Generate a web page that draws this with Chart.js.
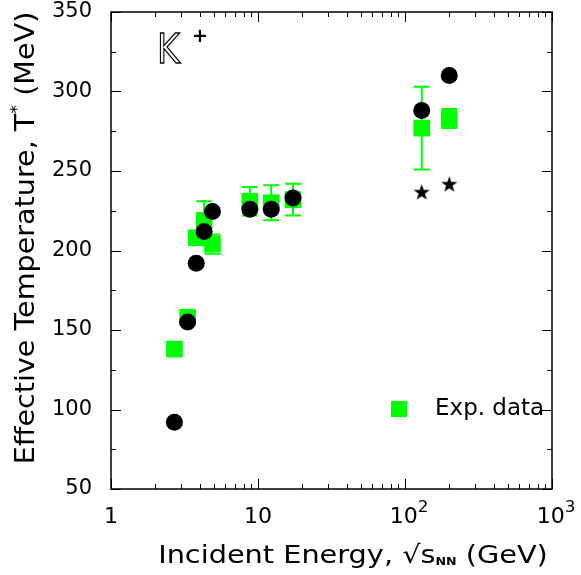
<!DOCTYPE html>
<html><head><meta charset="utf-8">
<script src="https://cdn.jsdelivr.net/npm/chart.js@4.4.1/dist/chart.umd.min.js"></script>
<style>html,body{margin:0;padding:0;background:#fff}canvas{display:block}</style>
</head><body>
<canvas id="c" width="581" height="575"></canvas>
<script>
// K+ effective temperature vs incident energy
const expEnergy  =[2.7,3.32,3.8,4.3,4.9,8.8,12.3,17.3,130,200];
const expTemp    =[138,158,208,219,204,231,230,232,277,283];
const expErr     =[0,0,3,12,6,9,11,10,26,6];
const modelEnergy=[2.7,3.32,3.8,4.3,4.9,8.8,12.3,17.3,130,200];
const modelTemp  =[92,155,192,212,224.5,226,226,233,288,310];
const starEnergy =[130,200];
const starTemp   =[237,242];
const xTickVals  =[1,10,100,1000];
const xTickLabels=[['1',''],['10',''],['10','2'],['10','3']];

const FONT='"DejaVu Sans"';
const GREEN='#00ff00';

function starImg(size){
  const c=document.createElement('canvas');c.width=c.height=size;
  const g=c.getContext('2d'),r=size/2,ri=r*0.4;
  g.beginPath();
  for(let i=0;i<10;i++){
    const a=-Math.PI/2+i*Math.PI/5,rr=i%2?ri:r;
    g.lineTo(r+rr*Math.cos(a),r+1+rr*Math.sin(a));
  }
  g.closePath();g.fillStyle='#000';g.fill();
  return c;
}

// parts: [text, size, dy, bold]; sx = horizontal stretch
function drawParts(ctx,parts,x,y,align,sx){
  sx=sx||1;
  let w=0;
  parts.forEach(p=>{ctx.font=(p[3]?'bold ':'')+p[1]+'px '+FONT;p.w=ctx.measureText(p[0]).width;w+=p.w;});
  ctx.save();ctx.translate(x,y);ctx.scale(sx,1);
  let cx=align==='center'?-w/2:0;
  parts.forEach(p=>{ctx.font=(p[3]?'bold ':'')+p[1]+'px '+FONT;ctx.fillText(p[0],cx,p[2]);cx+=p.w;});
  ctx.restore();
}

const decor={id:'decor',
  beforeDatasetsDraw(ch){
    const ctx=ch.ctx,xs=ch.scales.x,ys=ch.scales.y;
    ctx.save();ctx.strokeStyle=GREEN;ctx.lineWidth=2;
    expEnergy.forEach((e,i)=>{
      if(!expErr[i])return;
      const px=xs.getPixelForValue(e),y1=ys.getPixelForValue(expTemp[i]+expErr[i]),y2=ys.getPixelForValue(expTemp[i]-expErr[i]);
      ctx.beginPath();
      ctx.moveTo(px,y1);ctx.lineTo(px,y2);
      ctx.moveTo(px-8,y1);ctx.lineTo(px+8,y1);
      ctx.moveTo(px-8,y2);ctx.lineTo(px+8,y2);
      ctx.stroke();
    });
    ctx.restore();
  },
  afterDraw(ch){
    const ctx=ch.ctx,a=ch.chartArea,xs=ch.scales.x,ys=ch.scales.y;
    ctx.save();
    ctx.strokeStyle='#000';ctx.lineWidth=1.5;
    ctx.strokeRect(a.left,a.top,a.right-a.left,a.bottom-a.top);
    ctx.lineWidth=1;
    ctx.beginPath();
    for(let v=50;v<=350;v+=25){
      const py=Math.round(ys.getPixelForValue(v))+0.5,len=v%50===0?10:5;
      ctx.moveTo(a.left,py);ctx.lineTo(a.left+len,py);
      ctx.moveTo(a.right,py);ctx.lineTo(a.right-len,py);
    }
    for(let d=1;d<1000;d*=10){
      for(let k=1;k<=10;k++){
        const px=Math.round(xs.getPixelForValue(d*k))+0.5,len=k===1||k===10?10:5;
        ctx.moveTo(px,a.bottom);ctx.lineTo(px,a.bottom-len);
        ctx.moveTo(px,a.top);ctx.lineTo(px,a.top+len);
      }
    }
    ctx.stroke();

    ctx.fillStyle='#000';ctx.textBaseline='alphabetic';
    // x tick labels
    xTickVals.forEach((v,i)=>{
      const px=xs.getPixelForValue(v),[base,sup]=xTickLabels[i];
      const parts=[[base,21,0]];if(sup)parts.push([sup,16,-11]);
      drawParts(ctx,parts,px+(sup?4:0),523,'center',1.05);
    });
    // x title
    drawParts(ctx,[['Incident Energy, \u221As',25,0],['NN',11,2,true],[' (GeV)',25,0]],353,563,'center',1.15);
    // y title
    ctx.save();ctx.translate(34,238);ctx.rotate(-Math.PI/2);
    drawParts(ctx,[['Effective Temperature, T',26,0],['*',16,-12],[' (MeV)',26,0]],0,0,'center',1.1);
    ctx.restore();
    // K+
    ctx.save();ctx.font='41px '+FONT;ctx.lineWidth=1.3;ctx.translate(157,63);ctx.scale(0.85,1);ctx.strokeText('K',0,0);ctx.restore();
    ctx.font='bold 19px '+FONT;ctx.fillText('+',192,42);
    // legend
    const ds=ch.data.datasets[2];
    ctx.fillStyle=ds.backgroundColor;ctx.fillRect(391,401,16,16);
    ctx.fillStyle='#000';drawParts(ctx,[[ds.label,23,0]],435,415,'left',1.0);
    ctx.restore();
  }
};

new Chart(document.getElementById('c').getContext('2d'),{
  type:'scatter',
  data:{datasets:[
    {label:'Model',data:modelEnergy.map((x,i)=>({x,y:modelTemp[i]})),pointStyle:'circle',pointRadius:8.5,backgroundColor:'#000',borderWidth:0,order:1},
    {label:'Model star',data:starEnergy.map((x,i)=>({x,y:starTemp[i]})),pointStyle:starImg(17),order:2},
    {label:'Exp. data',data:expEnergy.map((x,i)=>({x,y:expTemp[i]})),pointStyle:'rect',pointRadius:11.8,backgroundColor:GREEN,borderWidth:0,order:3},
  ]},
  options:{responsive:false,animation:false,devicePixelRatio:1,
    layout:{padding:{top:12,right:29,left:0,bottom:0}},
    plugins:{legend:{display:false},tooltip:{enabled:false}},
    scales:{
      x:{type:'logarithmic',min:1,max:1000,ticks:{display:false},grid:{display:false},border:{display:false},
         afterFit:s=>{s.height=86;s.paddingLeft=0;s.paddingRight=0;}},
      y:{min:50,max:350,ticks:{stepSize:50,color:'#000',font:{family:'DejaVu Sans',size:21},padding:19},grid:{display:false,drawTicks:false},border:{display:false},
         afterFit:s=>{s.width=111;s.paddingTop=0;s.paddingBottom=0;}},
    }},
  plugins:[decor]
});
</script>
</body></html>
